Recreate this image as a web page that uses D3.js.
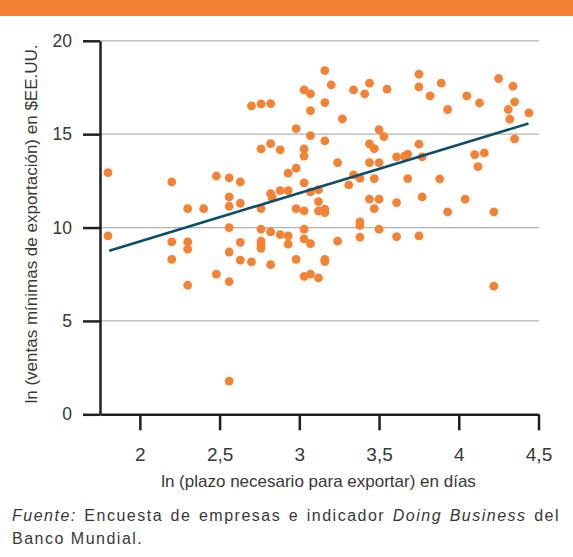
<!DOCTYPE html>
<html><head><meta charset="utf-8">
<script src="https://cdn.jsdelivr.net/npm/d3@7"></script>
<style>
html,body{margin:0;padding:0;background:#fff;}
svg{display:block;font-family:"Liberation Sans",Arial,sans-serif;}
</style></head>
<body><svg id="c" width="573" height="557"></svg>
<script>
// ln (plazo necesario para exportar) en días
const lnPlazo = [1.80,1.80,2.20,2.20,2.20,2.30,2.30,2.30,2.30,2.40,2.48,2.48,2.56,2.56,2.56,2.56,2.56,2.56,2.56,
  2.63,2.63,2.63,2.63,2.70,2.70,2.76,2.76,2.76,2.76,2.76,2.76,2.76,2.82,2.82,2.82,2.83,2.82,2.82,
  2.88,2.88,2.88,2.93,2.93,2.93,2.93,2.98,2.98,2.98,2.98,3.03,3.03,3.03,3.03,3.03,3.03,3.03,3.03,
  3.07,3.07,3.07,3.07,3.07,3.07,3.12,3.12,3.12,3.12,3.16,3.16,3.16,3.16,3.16,3.16,3.16,3.20,
  3.24,3.24,3.27,3.31,3.34,3.34,3.38,3.38,3.38,3.38,3.41,3.44,3.44,3.44,3.44,3.47,3.47,3.47,
  3.50,3.50,3.50,3.50,3.53,3.55,3.61,3.61,3.61,3.66,3.68,3.68,3.75,3.75,3.75,3.75,3.77,3.77,
  3.82,3.88,3.89,3.93,3.93,4.04,4.05,4.10,4.12,4.13,4.16,4.22,4.22,4.25,4.31,4.32,4.34,4.35,4.35,4.44];
// ln (ventas mínimas de exportación) en $EE.UU.
const lnVentas = [12.94,9.55,12.44,9.23,8.30,11.01,9.23,8.84,6.91,11.01,12.76,7.51,12.66,11.64,11.14,10.00,8.69,7.10,1.78,
  12.44,11.30,9.21,8.26,16.51,8.16,16.62,14.21,11.01,9.91,9.27,9.07,8.89,16.64,14.49,11.82,11.60,9.77,8.01,
  14.16,11.98,9.62,12.91,11.98,9.55,9.11,15.30,13.18,11.01,8.30,17.37,14.21,13.82,12.39,10.89,9.91,9.39,7.39,
  17.16,16.26,14.92,11.91,9.14,7.51,12.03,11.39,10.89,7.30,18.40,16.69,14.64,10.98,10.80,8.30,8.18,17.64,
  13.48,9.27,15.82,12.28,17.37,12.82,12.64,10.30,10.12,9.48,17.16,17.73,14.48,13.48,11.52,14.23,12.62,11.01,
  15.24,13.48,11.52,9.91,14.87,17.41,13.78,11.34,9.51,13.82,13.93,12.62,18.21,17.53,14.46,9.55,13.78,11.64,
  17.05,12.60,17.73,16.32,10.84,11.52,17.05,13.91,13.26,16.67,14.00,10.84,6.86,17.98,16.32,15.80,17.57,16.73,14.75,16.14];
// linear fit line endpoints
const trendX = [1.808, 4.437];
const trendY = [8.76, 15.57];
const xTicks = [2, 2.5, 3, 3.5, 4, 4.5];
const yTicks = [0, 5, 10, 15, 20];
const xTitle = "ln (plazo necesario para exportar) en días";
const yTitle = "ln (ventas mínimas de exportación) en $EE.UU.";
const footWords = [["Fuente:",true],["Encuesta",false],["de",false],["empresas",false],["e",false],["indicador",false],["Doing",true],["Business",true],["del",false]];
const footLine2 = "Banco Mundial.";

const svg = d3.select("#c");
const ORANGE = "#f58233", DARK = "#231f20", TEXT = "#383838";

svg.append("rect").attr("x",0).attr("y",0).attr("width",573).attr("height",16).attr("fill",ORANGE);

const x = d3.scaleLinear().domain([1.75, 4.5]).range([100, 538.5]);
const y = d3.scaleLinear().domain([0, 20]).range([414.3, 40.8]);

// gridlines
svg.append("g").selectAll("line").data(yTicks.filter(d=>d>0)).join("line")
  .attr("x1",100).attr("x2",539).attr("y1",d=>y(d)).attr("y2",d=>y(d))
  .attr("stroke","#b3b3b3").attr("stroke-width",1.2);

// y axis
const ya = svg.append("g").attr("transform","translate(100,0)")
  .call(d3.axisLeft(y).tickValues(yTicks).tickSize(17).tickPadding(11).tickSizeOuter(0));
ya.select(".domain").attr("stroke",DARK).attr("stroke-width",2.5);
ya.selectAll(".tick line").attr("stroke",DARK).attr("stroke-width",2.5);
ya.selectAll(".tick text").attr("fill",TEXT).attr("font-size",17.5).attr("font-family","Liberation Sans, Arial, sans-serif");

// x axis
const xa = svg.append("g").attr("transform","translate(0,414.3)")
  .call(d3.axisBottom(x).tickValues(xTicks).tickSize(16).tickPadding(17).tickSizeOuter(0)
    .tickFormat(d=>String(d).replace(".",",")));
xa.select(".domain").attr("stroke",DARK).attr("stroke-width",2.5);
xa.selectAll(".tick line").attr("stroke",DARK).attr("stroke-width",2.5);
xa.selectAll(".tick text").attr("fill",TEXT).attr("font-size",19).attr("font-family","Liberation Sans, Arial, sans-serif");

// points
svg.append("g").selectAll("circle").data(lnPlazo.map((v,i)=>[v,lnVentas[i]])).join("circle")
  .attr("cx",d=>x(d[0])).attr("cy",d=>y(d[1])).attr("r",4.4).attr("fill",ORANGE);

// trend line
svg.append("line").attr("x1",x(trendX[0])).attr("y1",y(trendY[0])).attr("x2",x(trendX[1])).attr("y2",y(trendY[1]))
  .attr("stroke","#0b4f6c").attr("stroke-width",2.6);

// axis titles
svg.append("text").attr("x",318.5).attr("y",486.5).attr("text-anchor","middle")
  .attr("font-size",17).attr("fill",TEXT).text(xTitle);
svg.append("text").attr("transform","translate(37,224) rotate(-90)").attr("text-anchor","middle")
  .attr("font-size",17).attr("fill",TEXT).text(yTitle);

// footnote, justified line 1
const fg = svg.append("g").attr("font-size",16).attr("fill",TEXT).attr("letter-spacing","1.5px");
const ws = footWords.map(([w,it]) => {
  const t = fg.append("text").attr("y",521).attr("font-style",it?"italic":"normal").text(w);
  return {t, w: t.node().getComputedTextLength()};
});
const total = d3.sum(ws, d=>d.w);
const gap = (560 - 12 - total) / (ws.length - 1);
let cx = 12;
ws.forEach(d => { d.t.attr("x", cx); cx += d.w + gap; });
fg.append("text").attr("x",12).attr("y",544).text(footLine2);
</script></body></html>
